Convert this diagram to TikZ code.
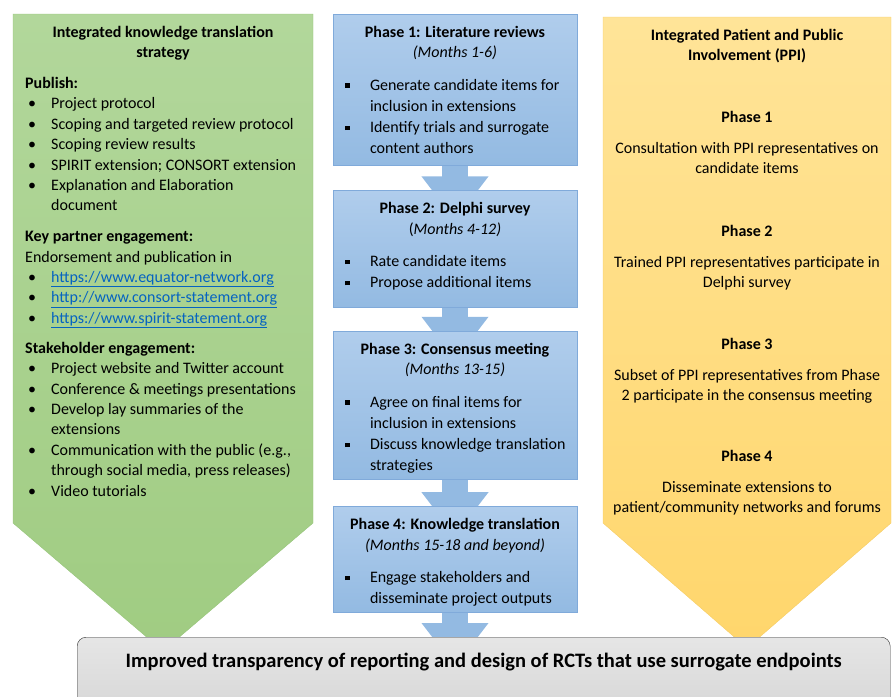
\documentclass[tikz,border=0pt]{standalone}
\usepackage{fontspec}
\setmainfont{Carlito}
\usepackage{xcolor}
\usepackage{tikz}
\usetikzlibrary{arrows.meta,positioning,backgrounds}
\definecolor{kttop}{RGB}{178,215,155}
\definecolor{ktbot}{RGB}{160,204,130}
\definecolor{ktline}{RGB}{150,196,122}
\definecolor{phtop}{RGB}{176,205,236}
\definecolor{phbot}{RGB}{147,186,226}
\definecolor{phline}{RGB}{128,170,218}
\definecolor{ppitop}{RGB}{255,228,152}
\definecolor{ppibot}{RGB}{255,214,108}
\definecolor{ppiline}{RGB}{246,204,100}
\definecolor{weblink}{RGB}{5,99,193}
\newcommand{\blt}{\makebox[26pt][l]{\hspace{3pt}\textbullet}}
\newcommand{\sqb}{\makebox[26pt][l]{\hspace{1pt}\rule[2.5pt]{4.5pt}{4.5pt}}}
\newcommand{\hang}{\hspace*{26pt}}
\newcommand{\site}[1]{\textcolor{weblink}{\underline{#1}}}
\tikzset{
  phase/.style={draw=phline, top color=phtop, bottom color=phbot, minimum width=244pt, inner sep=0pt},
  flow/.style={-{Triangle[width=64pt,length=44pt]}, line width=26pt, draw=phbot, shorten >=-30pt},
  body/.style={font=\fontsize{16}{20.4}\selectfont, inner sep=0pt},
  head/.style={body, align=center, anchor=north},
  list/.style={body, align=left, anchor=north west},
  phlist/.style={list, font=\fontsize{16}{21.2}\selectfont}
}
\begin{document}
\begin{tikzpicture}[x=1pt, y=-1pt,
    outcome/.style={draw=black!80, thin, top color=gray!20, bottom color=gray!32, rounded corners=9pt, minimum width=813pt, minimum height=80pt, inner sep=0pt},
    big/.style={font=\bfseries\fontsize{20.5}{24}\selectfont, inner sep=0pt}
]
    \useasboundingbox (0,0) rectangle (893,696);
    \clip (0,0) rectangle (893,696);

    % Knowledge translation arrow
    \path[draw=ktline, top color=kttop, bottom color=ktbot] (13,14) -- (313,14) -- (313,523) -- (163,651) -- (13,523) -- cycle;
    % PPI arrow
    \path[draw=ppiline, top color=ppitop, bottom color=ppibot] (603,17) -- (891,17) -- (891,523) -- (747,648) -- (603,523) -- cycle;

    % Phases
    \node[phase, minimum height=151pt, anchor=north] (ph1) at (455,14) {};
    \node[phase, minimum height=117pt, below=25pt of ph1] (ph2) {};
    \node[phase, minimum height=148pt, below=23pt of ph2] (ph3) {};
    \node[phase, minimum height=106pt, below=27pt of ph3] (ph4) {};

    \node[head, below=12pt of ph1.north] (ph1title) {\textbf{Phase 1: Literature reviews}\\ \textit{(Months 1-6)}};
    \node[phlist, below right=65pt and 11pt of ph1.north west, anchor=north west] (ph1list) {\sqb Generate candidate items for\\ \hang inclusion in extensions\\ \sqb Identify trials and surrogate\\ \hang content authors};

    \node[head, below=12pt of ph2.north] (ph2title) {\textbf{Phase 2: Delphi survey}\\ ({\itshape Months 4-12)}};
    \node[phlist, below right=65pt and 11pt of ph2.north west, anchor=north west] (ph2list) {\sqb Rate candidate items\\ \sqb Propose additional items};

    \node[head, below=12pt of ph3.north] (ph3title) {\textbf{Phase 3: Consensus meeting}\\ \textit{(Months 13-15)}};
    \node[phlist, below right=65pt and 11pt of ph3.north west, anchor=north west] (ph3list) {\sqb Agree on final items for\\ \hang inclusion in extensions\\ \sqb Discuss knowledge translation\\ \hang strategies};

    \node[head, below=12pt of ph4.north] (ph4title) {\textbf{Phase 4: Knowledge translation}\\ \textit{(Months 15-18 and beyond)}};
    \node[phlist, below right=65pt and 11pt of ph4.north west, anchor=north west] (ph4list) {\sqb Engage stakeholders and\\ \hang disseminate project outputs};

    % Outcome
    \node[outcome, anchor=north west] (outcome) at (77,637) {};
    \node[big, below=30pt of outcome.north, anchor=base] (outcometext) {Improved transparency of reporting and design of RCTs that use surrogate endpoints};

    \begin{pgfonlayer}{background}
    \draw[flow] (ph1.south) -- (ph2.north);
    \draw[flow] (ph2.south) -- (ph3.north);
    \draw[flow] (ph3.south) -- (ph4.north);
    \draw[flow] (ph4.south) -- (outcome.north -| ph4.south);
    \end{pgfonlayer}

    % Knowledge translation text
    \node[head] (kttitle) at (163,26) {\textbf{Integrated knowledge translation}\\ \textbf{strategy}};
    \node[list] (ktlist) at (25,77) {\textbf{Publish:}\\
      \blt Project protocol\\
      \blt Scoping and targeted review protocol\\
      \blt Scoping review results\\
      \blt SPIRIT extension; CONSORT extension\\
      \blt Explanation and Elaboration\\
      \hang document\\[10.4pt]
      \textbf{Key partner engagement:}\\
      Endorsement and publication in\\
      \blt \site{https://www.equator-network.org}\\
      \blt \site{http://www.consort-statement.org}\\
      \blt \site{https://www.spirit-statement.org}\\[9.6pt]
      \textbf{Stakeholder engagement:}\\
      \blt Project website and Twitter account\\
      \blt Conference \& meetings presentations\\
      \blt Develop lay summaries of the\\
      \hang extensions\\
      \blt Communication with the public (e.g.,\\
      \hang through social media, press releases)\\
      \blt Video tutorials};

    % PPI text
    \node[head] (ppititle) at (747,29) {\textbf{Integrated Patient and Public}\\ \textbf{Involvement (PPI)}};
    \node[head] (ppi1) at (747,111) {\textbf{Phase 1}\\[10.6pt] Consultation with PPI representatives on\\ candidate items};
    \node[head] (ppi2) at (747,225) {\textbf{Phase 2}\\[10.6pt] Trained PPI representatives participate in\\ Delphi survey};
    \node[head] (ppi3) at (747,338) {\textbf{Phase 3}\\[10.6pt] Subset of PPI representatives from Phase\\ 2 participate in the consensus meeting};
    \node[head] (ppi4) at (747,450) {\textbf{Phase 4}\\[10.6pt] Disseminate extensions to\\ patient/community networks and forums};

\end{tikzpicture}
\end{document}
